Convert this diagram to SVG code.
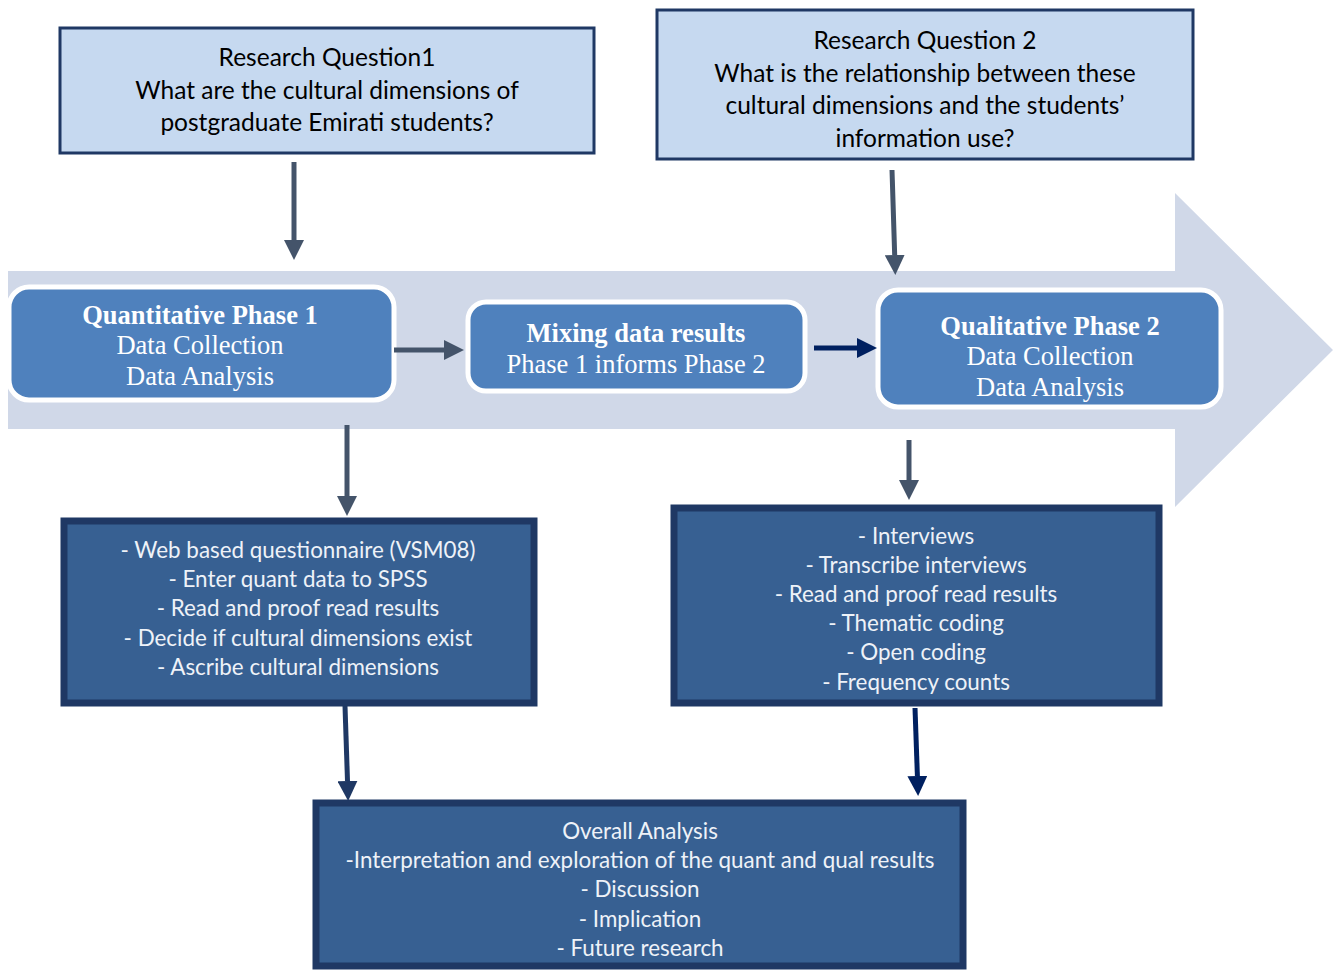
<svg xmlns="http://www.w3.org/2000/svg" width="1334" height="970" viewBox="0 0 1334 970">
<style>
.q{fill:#c6d9f0;stroke:#1f3864;stroke-width:3}
.ph{fill:#4f81bd;stroke:#ffffff;stroke-width:5}
.dk{fill:#376092;stroke:#1f3864;stroke-width:7}
.tq{font-family:Lato,"Open Sans",sans-serif;font-size:24.5px;fill:#000;text-anchor:middle}
.ts{font-family:"Liberation Serif","Times New Roman",serif;font-size:26.5px;fill:#fff;text-anchor:middle}
.tb{font-weight:bold}
.td{font-family:Lato,"Open Sans",sans-serif;font-size:22.4px;fill:#eef2f8;text-anchor:middle}
.c1{stroke:#44546a;stroke-width:5;fill:none}
.c2{stroke:#002060;stroke-width:5;fill:none}
.c3{stroke:#1f3864;stroke-width:5;fill:none}
</style>
<defs>
<marker id="ag" viewBox="0 0 10 10" refX="0" refY="5" markerWidth="4" markerHeight="4" markerUnits="strokeWidth" orient="auto"><path d="M0,0L10,5L0,10z" fill="#44546a"/></marker>
<marker id="an" viewBox="0 0 10 10" refX="0" refY="5" markerWidth="4" markerHeight="4" markerUnits="strokeWidth" orient="auto"><path d="M0,0L10,5L0,10z" fill="#002060"/></marker>
<marker id="ad" viewBox="0 0 10 10" refX="0" refY="5" markerWidth="4" markerHeight="4" markerUnits="strokeWidth" orient="auto"><path d="M0,0L10,5L0,10z" fill="#1f3864"/></marker>
</defs>
<rect width="1334" height="970" fill="#fff"/>
<path id="bigarrow" d="M8,271H1175V193L1333,350L1175,507V429H8z" fill="#d0d8e8"/>
<g id="rq1"><rect class="q" x="60" y="28" width="534" height="125"/>
<text class="tq"><tspan x="327" y="66">Research Question1</tspan><tspan x="327" y="99">What are the cultural dimensions of</tspan><tspan x="327" y="131">postgraduate Emirati students?</tspan></text></g>
<g id="rq2"><rect class="q" x="657" y="10" width="536" height="149"/>
<text class="tq"><tspan x="925" y="49">Research Question 2</tspan><tspan x="925" y="82">What is the relationship between these</tspan><tspan x="925" y="114">cultural dimensions and the students’</tspan><tspan x="925" y="147">information use?</tspan></text></g>
<g id="quant"><rect class="ph" x="9" y="287" width="385" height="113" rx="20"/>
<text class="ts"><tspan class="tb" x="200" y="324">Quantitative Phase 1</tspan><tspan x="200" y="354">Data Collection</tspan><tspan x="200" y="385">Data Analysis</tspan></text></g>
<g id="mixing"><rect class="ph" x="468" y="302" width="337" height="89" rx="18"/>
<text class="ts"><tspan class="tb" x="636" y="342">Mixing data results</tspan><tspan x="636" y="373">Phase 1 informs Phase 2</tspan></text></g>
<g id="qual"><rect class="ph" x="878" y="290" width="343" height="117" rx="20"/>
<text class="ts"><tspan class="tb" x="1050" y="335">Qualitative Phase 2</tspan><tspan x="1050" y="365">Data Collection</tspan><tspan x="1050" y="396">Data Analysis</tspan></text></g>
<g id="quantsteps"><rect class="dk" x="64" y="521" width="470" height="182"/>
<text class="td"><tspan x="298" y="558">- Web based questionnaire (VSM08)</tspan><tspan x="298" y="587">- Enter quant data to SPSS</tspan><tspan x="298" y="616">- Read and proof read results</tspan><tspan x="298" y="646">- Decide if cultural dimensions exist</tspan><tspan x="298" y="675">- Ascribe cultural dimensions</tspan></text></g>
<g id="qualsteps"><rect class="dk" x="674" y="508" width="485" height="195"/>
<text class="td"><tspan x="916" y="544">- Interviews</tspan><tspan x="916" y="573">- Transcribe interviews</tspan><tspan x="916" y="602">- Read and proof read results</tspan><tspan x="916" y="631">- Thematic coding</tspan><tspan x="916" y="660">- Open coding</tspan><tspan x="916" y="690">- Frequency counts</tspan></text></g>
<g id="overall"><rect class="dk" x="316" y="803" width="647" height="163"/>
<text class="td"><tspan x="640" y="839">Overall Analysis</tspan><tspan x="640" y="868">-Interpretation and exploration of the quant and qual results</tspan><tspan x="640" y="897">- Discussion</tspan><tspan x="640" y="927">- Implication</tspan><tspan x="640" y="956">- Future research</tspan></text></g>
<g id="connectors">
<path class="c1" d="M294,162V240" marker-end="url(#ag)"/>
<path class="c1" d="M892,170L894.7,255" marker-end="url(#ag)"/>
<path class="c1" d="M394,350H444" marker-end="url(#ag)"/>
<path class="c2" d="M814,348H857" marker-end="url(#an)"/>
<path class="c1" d="M347,425V496" marker-end="url(#ag)"/>
<path class="c1" d="M909,440V480" marker-end="url(#ag)"/>
<path class="c3" d="M345,706L347.5,781" marker-end="url(#ad)"/>
<path class="c2" d="M915,708L917.4,776" marker-end="url(#an)"/>
</g>
</svg>
